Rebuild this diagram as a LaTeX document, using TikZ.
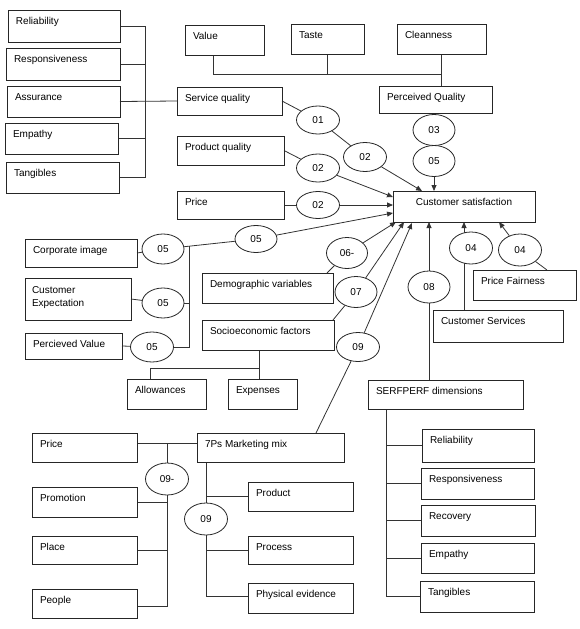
\documentclass[tikz,border=0pt]{standalone}
\usepackage{fontspec}
\setmainfont{Liberation Sans}
\usetikzlibrary{calc,shapes.geometric,arrows.meta,backgrounds}
\tikzset{
  boxst/.style={draw=black!85, line width=0.9pt, rectangle, inner sep=0pt, outer sep=0pt},
  txt/.style={inner sep=0pt, outer sep=0pt, font=\fontsize{10}{12}\selectfont},
  ell/.style={draw=black!85, line width=0.8pt, ellipse, fill=white, inner sep=0pt,
    minimum width=43pt, minimum height=30pt, font=\fontsize{10}{12}\selectfont},
  con/.style={draw=black!80, line width=0.8pt},
  arr/.style={con, -{Triangle[length=6pt,width=5pt]}}
}
\newcommand{\bx}[6]{%
  \node[boxst, minimum width={#4-#2}, minimum height={#5-#3}, anchor=north west] (#1) at (#2,#3) {};
  \node[txt, anchor=base west] (#1-t) at ($(#1.north west)+(8,14)$) {#6};}
\begin{document}
\begin{tikzpicture}[x=1pt,y=-1pt]
\useasboundingbox (0,0) rectangle (580,629);
% left service-quality dimensions
\bx{relL}{8}{10}{120}{42}{Reliability}
\bx{resL}{6}{48}{120}{80}{Responsiveness}
\bx{asL}{7}{86}{120}{117}{Assurance}
\bx{empL}{5}{123}{118}{154}{Empathy}
\bx{tanL}{6}{162}{119}{193}{Tangibles}
% top
\bx{val}{185}{25}{264}{55}{Value}
\bx{taste}{291}{24}{364}{54}{Taste}
\bx{clean}{397}{24}{486}{54}{Cleanness}
\bx{sq}{177}{87}{282}{115}{Service quality}
\bx{pq}{379}{86}{492}{113}{Perceived Quality}
\bx{prq}{177}{136}{284}{165}{Product quality}
\bx{price}{177}{191}{284}{219}{Price}
% customer satisfaction
\node[boxst, minimum width=142, minimum height=31, anchor=north west] (cs) at (393,191) {};
\node[txt, anchor=base] (cs-t) at ($(cs.north)+(0,14)$) {Customer satisfaction};
% left middle
\bx{ci}{25}{239}{137}{267}{Corporate image}
\node[boxst, minimum width=106, minimum height=42, anchor=north west] (ce) at (25,278) {};
\node[txt, anchor=base west] (ce-t) at ($(ce.north west)+(7,15)$) {Customer};
\node[txt, anchor=base west] (ce-t2) at ($(ce.north west)+(7,28)$) {Expectation};
\bx{pv}{25}{333}{122}{359}{Percieved Value}
\bx{dem}{202}{273}{333}{303}{Demographic variables}
\bx{soc}{202}{320}{334}{350}{Socioeconomic factors}
\bx{allow}{127}{379}{206}{409}{Allowances}
\bx{exp}{228}{379}{297}{409}{Expenses}
% right middle
\bx{serf}{368}{380}{523}{409}{SERFPERF dimensions}
\bx{csv}{433}{310}{563}{342}{Customer Services}
\bx{pf}{473}{270}{576}{300}{Price Fairness}
\bx{relR}{422}{429}{534}{462}{Reliability}
\bx{resR}{421}{468}{534}{499}{Responsiveness}
\bx{recR}{421}{505}{535}{536}{Recovery}
\bx{empR}{421}{543}{534}{573}{Empathy}
\bx{tanR}{420}{581}{534}{612}{Tangibles}
% bottom left
\bx{price2}{32}{433}{137}{462}{Price}
\bx{mix}{197}{433}{344}{462}{7Ps Marketing mix}
\bx{promo}{32}{487}{137}{517}{Promotion}
\bx{place}{32}{536}{137}{564}{Place}
\bx{people}{32}{589}{137}{618}{People}
\bx{product}{248}{482}{353}{511}{Product}
\bx{process}{248}{536}{353}{564}{Process}
\bx{phys}{248}{583}{353}{613}{Physical evidence}
% ellipses
\node[ell, minimum height=28] (e01) at (318,120) {01};
\node[ell, minimum height=29] (e02a) at (365,157) {02};
\node[ell, minimum height=28] (e02b) at (318,168) {02};
\node[ell, minimum height=27] (e02c) at (318,205) {02};
\node[ell, minimum width=42, minimum height=31] (e03) at (434,130) {03};
\node[ell, minimum width=42, minimum height=31] (e05pq) at (434,161) {05};
\node[ell, minimum width=42] (e05a) at (163,249) {05};
\node[ell, minimum width=42, minimum height=27] (e05b) at (256,239) {05};
\node[ell, minimum width=42] (e05ce) at (163,303) {05};
\node[ell] (e05pv) at (152,347) {05};
\node[ell, minimum width=41, minimum height=31] (e06) at (347,253) {06-};
\node[ell, minimum width=42, minimum height=31] (e07) at (356,292) {07};
\node[ell, minimum height=29] (e09a) at (358,347) {09};
\node[ell, minimum width=42, minimum height=32] (e08) at (429,287) {08};
\node[ell, minimum height=32] (e04a) at (471,248) {04};
\node[ell, minimum height=32] (e04b) at (520,250) {04};
\node[ell, minimum height=32] (e09m) at (167,479) {09-};
\node[ell, minimum height=32] (e09p) at (206,519) {09};
% connectors
\begin{pgfonlayer}{background}
% left bracket
\coordinate (bl) at (145,0);
\draw[con] (relL.east) -- (relL.east -| bl) -- (tanL.east -| bl) -- (tanL.east);
\draw[con] (resL.east) -- (resL.east -| bl);
\draw[con] (empL.east) -- (empL.east -| bl);
\draw[con] (asL.east) -- (sq.west);
% top bracket
\draw[con] ($(val.south west)+(28,0)$) -- ++(0,19) -| (pq.north -| clean.south);
\draw[con] (clean.south) -- (pq.north -| clean.south);
\draw[con] (taste.south) -- ++(0,20);
% chains to customer satisfaction
\draw[con] (sq.east) -- (e01);
\draw[con] (e01) -- (e02a);
\draw[arr] (e02a) -- ($(cs.north west)+(29,0)$);
\draw[con] (prq.east) -- (e02b);
\draw[arr] (e02b) -- ($(cs.north west)+(0,6)$);
\draw[con] (price.east) -- (e02c);
\draw[arr] (e02c) -- ($(cs.north west)+(0,14)$);
\draw[con] (pq.south -| e03) -- (e03);
\draw[arr] (e05pq) -- (cs.north -| e05pq);
% corporate image etc.
\draw[con] (ci.east) -- (e05a);
\draw[con] (e05a) -- (e05b);
\draw[arr] (e05b) -- ($(cs.north west)+(0,22)$);
\coordinate (vt) at ($(e05a)!0.28!(e05b)$);
\draw[con] (ce.east) -- (e05ce);
\draw[con] (e05ce) -- (e05ce -| vt);
\draw[con] (pv.east) -- (e05pv);
\draw[con] (e05pv) -- (e05pv -| vt) -- (vt);
% demographic, socioeconomic, 7Ps
\draw[con] ($(dem.north east)+(-6,0)$) -- (e06);
\draw[arr] (e06) -- ($(cs.south west)+(3,0)$);
\draw[con] ($(soc.north east)+(-1,0)$) -- (e07);
\draw[arr] (e07) -- ($(cs.south west)+(11,0)$);
\draw[arr] (e09a) -- ($(cs.south west)+(19,1)$);
\draw[con] (e09a) -- ($(mix.north east)+(-28,0)$);
\coordinate (sx) at ($(soc.south west)+(57,0)$);
\draw[con] (sx) -- (sx |- exp.north);
\draw[con] ($(allow.north west)+(23,0)$) |- ($(soc.south west)+(57,18)$);
% SERFPERF, customer services, price fairness
\draw[con] (serf.north -| e08) -- (e08);
\draw[arr] (e08) -- (cs.south -| e08);
\coordinate (x04) at ($(csv.north west)+(31,0)$);
\draw[arr] (x04) -- (x04 |- cs.south);
\draw[arr] (e04b) -- ($(cs.south east)+(-36,0)$);
\draw[con] (e04b) -- ($(pf.north west)+(74,0)$);
% bottom left bracket
\coordinate (pl) at ($(price2.north east)+(0,10)$);
\coordinate (vx) at (167,0);
\draw[con] (pl) -- (pl -| mix.west);
\coordinate (pj) at ($(people.north east)+(0,17)$);
\draw[con] (pl -| vx) |- (pj);
\draw[con] (promo.east) -- (promo.east -| vx);
\draw[con] (place.east) -- (place.east -| vx);
% 7Ps bracket
\coordinate (mx) at ($(mix.south west)+(9,0)$);
\coordinate (physj) at ($(phys.north west)+(0,13)$);
\draw[con] (mx) |- (physj);
\draw[con] (product.west) -- (product.west -| mx);
\draw[con] (process.west) -- (process.west -| mx);
% right bracket
\coordinate (rx) at ($(serf.south west)+(18,0)$);
\coordinate (tanj) at ($(tanR.north west)+(0,15)$);
\draw[con] (rx) |- (tanj);
\draw[con] (relR.west) -- (relR.west -| rx);
\draw[con] (resR.west) -- (resR.west -| rx);
\draw[con] (recR.west) -- (recR.west -| rx);
\draw[con] (empR.west) -- (empR.west -| rx);
\end{pgfonlayer}
\end{tikzpicture}
\end{document}
